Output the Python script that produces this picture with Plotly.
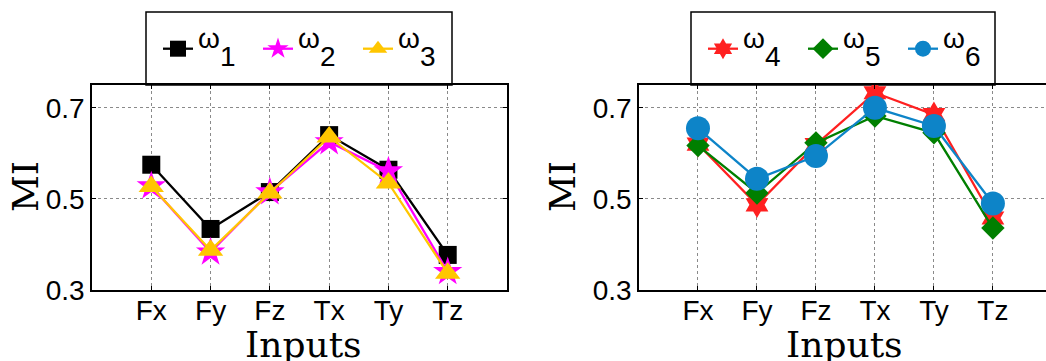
import plotly.graph_objects as go

categories = ["Fx", "Fy", "Fz", "Tx", "Ty", "Tz"]
y_ticks = [0.3, 0.5, 0.7]
y_tick_labels = ["0.3", "0.5", "0.7"]

w1 = [0.575, 0.434, 0.515, 0.640, 0.564, 0.377]
w2 = [0.528, 0.383, 0.515, 0.625, 0.561, 0.340]
w3 = [0.527, 0.387, 0.513, 0.636, 0.535, 0.337]
w4 = [0.620, 0.487, 0.619, 0.733, 0.685, 0.458]
w5 = [0.617, 0.513, 0.623, 0.682, 0.645, 0.436]
w6 = [0.655, 0.544, 0.594, 0.700, 0.660, 0.490]

W, H = 1046, 361
TICKFONT = dict(family="Liberation Sans, Arial", size=28, color="black")
SERIF = dict(family="DejaVu Serif, Liberation Serif", size=36, color="black")


def omega(i):
    return ('<sup><span style="font-size:28px">ω</span></sup>'
            '<sub><span style="font-size:28px">%d</span></sub>' % i)


left_series = [
    (omega(1), w1, "#000000", "square", 18),
    (omega(2), w2, "#FF00FF", "star", 22),
    (omega(3), w3, "#FFC600", "triangle-up", 22),
]
right_series = [
    (omega(4), w4, "#FF2020", "hexagram", 20),
    (omega(5), w5, "#007F00", "diamond", 18),
    (omega(6), w6, "#0D84C8", "circle", 24),
]

fig = go.Figure()
for name, vals, col, sym, sz in left_series:
    fig.add_trace(go.Scatter(x=categories, y=vals, name=name, mode="lines+markers",
                             line=dict(color=col, width=2.3),
                             marker=dict(symbol=sym, size=sz, color=col, line=dict(width=0)),
                             xaxis="x", yaxis="y", legend="legend"))
for name, vals, col, sym, sz in right_series:
    fig.add_trace(go.Scatter(x=categories, y=vals, name=name, mode="lines+markers",
                             line=dict(color=col, width=2.3),
                             marker=dict(symbol=sym, size=sz, color=col, line=dict(width=0)),
                             xaxis="x2", yaxis="y2", legend="legend2"))

top_px, bot_px = 85, 290
y0 = (H - bot_px) / H
y1 = (H - top_px) / H
lx0, lx1 = 92 / W, 507 / W
rx0, rx1 = 639 / W, 1.0

axis_common = dict(showgrid=True, gridcolor="#8a8a8a", griddash="dot", gridwidth=1,
                   showline=True, linecolor="black", linewidth=1.5,
                   ticks="inside", ticklen=4, tickcolor="black",
                   tickfont=TICKFONT, zeroline=False, automargin=False)

leg_common = dict(orientation="h", y=1 - 49 / H, yanchor="middle",
                  bgcolor="rgba(0,0,0,0)", borderwidth=0, font=TICKFONT,
                  entrywidth=55, entrywidthmode="pixels", itemsizing="trace")

fig.update_layout(
    width=W, height=H, margin=dict(l=0, r=0, t=0, b=0, autoexpand=False),
    paper_bgcolor="white", plot_bgcolor="white", showlegend=True,
    xaxis=dict(domain=[lx0, lx1], anchor="y", type="category", categoryorder="array",
               categoryarray=categories, range=[-1, 6], mirror="ticks",
               ticklabelstandoff=-5, **axis_common),
    yaxis=dict(domain=[y0, y1], anchor="x", range=[0.3, 0.75], tickvals=y_ticks,
               ticktext=y_tick_labels, mirror="ticks", **axis_common),
    xaxis2=dict(domain=[rx0, rx1], anchor="y2", type="category", categoryorder="array",
                categoryarray=categories, range=[-1, 5.9], mirror="ticks",
                ticklabelstandoff=-5, **axis_common),
    yaxis2=dict(domain=[y0, y1], anchor="x2", range=[0.3, 0.75], tickvals=y_ticks,
                ticktext=y_tick_labels, mirror=False, **axis_common),
    legend=dict(x=158 / W, xanchor="left", **leg_common),
    legend2=dict(x=703 / W, xanchor="left", **leg_common),
    shapes=[
        dict(type="rect", xref="paper", yref="paper", x0=146 / W, x1=452 / W,
             y0=y1, y1=1 - 12 / H, line=dict(color="black", width=1.5), fillcolor="white",
             layer="below"),
        dict(type="rect", xref="paper", yref="paper", x0=691 / W, x1=995 / W,
             y0=y1, y1=1 - 12 / H, line=dict(color="black", width=1.5), fillcolor="white",
             layer="below"),
    ],
    annotations=[
        dict(text="MI", xref="paper", yref="paper", x=26 / W, y=(H - 187) / H,
             textangle=-90, showarrow=False, font=SERIF, xanchor="center", yanchor="middle"),
        dict(text="Inputs", xref="paper", yref="paper", x=303 / W, y=(H - 344) / H,
             showarrow=False, font=SERIF, xanchor="center", yanchor="middle"),
        dict(text="MI", xref="paper", yref="paper", x=563 / W, y=(H - 187) / H,
             textangle=-90, showarrow=False, font=SERIF, xanchor="center", yanchor="middle"),
        dict(text="Inputs", xref="paper", yref="paper", x=844 / W, y=(H - 344) / H,
             showarrow=False, font=SERIF, xanchor="center", yanchor="middle"),
    ],
)

fig.write_html("out.html", config={"displayModeBar": False},
               post_script="document.body.style.margin='0';document.body.style.overflow='hidden';")
